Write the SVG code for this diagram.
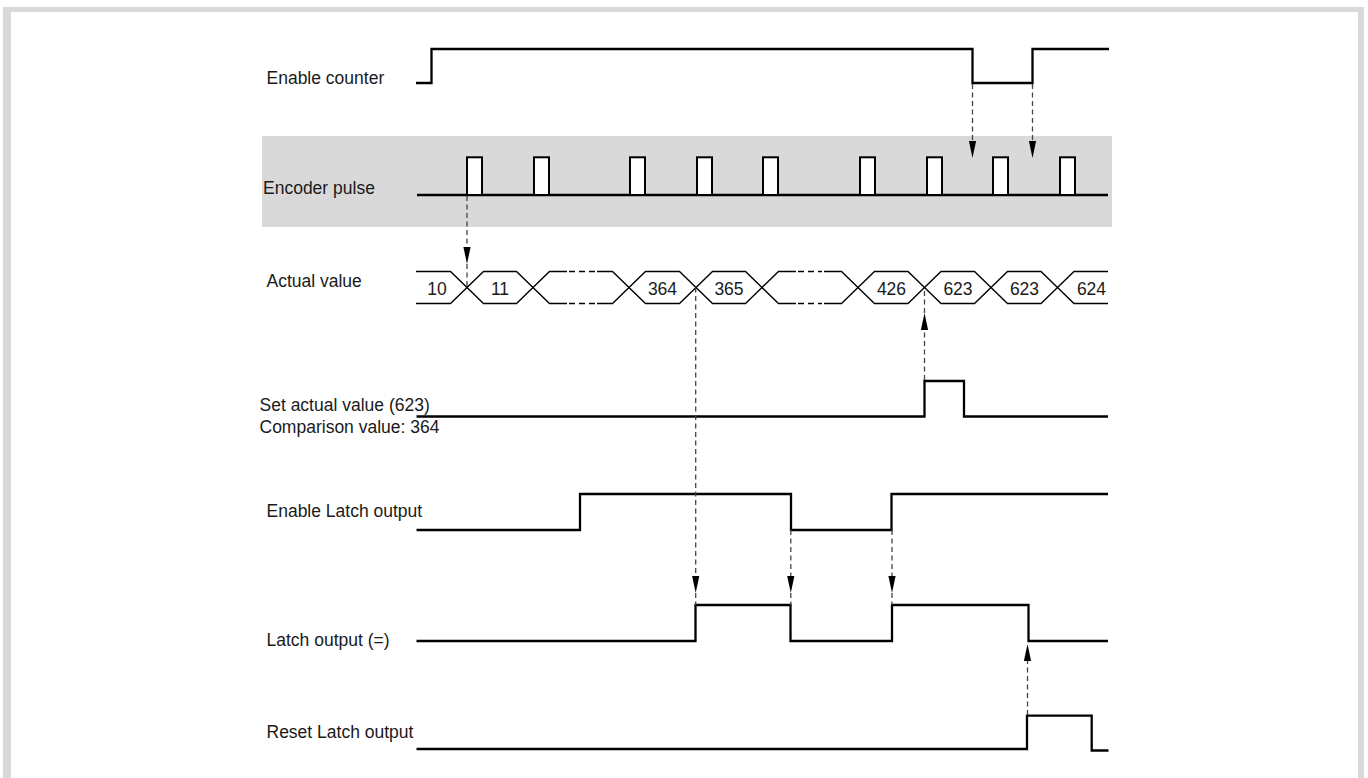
<svg xmlns="http://www.w3.org/2000/svg" width="1368" height="778" viewBox="0 0 1368 778">
<style>
.lbl{font-family:"Liberation Sans",Arial,sans-serif;font-size:17.5px;fill:#1a1a1a}
.val{font-family:"Liberation Sans",Arial,sans-serif;font-size:17.5px;fill:#1a1a1a;text-anchor:middle}
.sig{fill:none;stroke:#000;stroke-width:2.3;stroke-linejoin:miter;stroke-linecap:butt}
.bus{fill:none;stroke:#000;stroke-width:1.4;stroke-linejoin:miter}
.busd{fill:none;stroke:#000;stroke-width:1.4;stroke-dasharray:6 4}
.pulse{fill:#fff;stroke:#000;stroke-width:2}
.dash{fill:none;stroke:#444;stroke-width:1.3;stroke-dasharray:5 3.5}
.ah{fill:#000}
</style>
<defs>
<path id="ahDown" d="M-3.6,-17 L3.6,-17 L0,0 Z"/>
<path id="ahUp" d="M-3.6,17 L3.6,17 L0,0 Z"/>
</defs>
<rect x="3" y="7" width="1361" height="780" fill="#d9d9d9"/>
<rect x="11" y="12" width="1347" height="780" fill="#fff"/>
<rect x="262" y="136" width="850" height="91" fill="#d9d9d9"/>

<g id="enable-counter">
<text class="lbl" x="266.5" y="83.5">Enable counter</text>
<path class="sig" d="M416,83 H431.5 V49 H972.5 V83 H1032.5 V49 H1109"/>
</g>

<g id="encoder-pulse">
<text class="lbl" x="263" y="194">Encoder pulse</text>
<path class="sig" d="M417,195 H1108"/>
<rect class="pulse" x="467" y="157.3" width="15" height="37.7"/>
<rect class="pulse" x="534" y="157.3" width="15" height="37.7"/>
<rect class="pulse" x="630" y="157.3" width="15" height="37.7"/>
<rect class="pulse" x="697" y="157.3" width="15" height="37.7"/>
<rect class="pulse" x="763" y="157.3" width="15" height="37.7"/>
<rect class="pulse" x="860" y="157.3" width="15" height="37.7"/>
<rect class="pulse" x="927" y="157.3" width="15" height="37.7"/>
<rect class="pulse" x="993" y="157.3" width="15" height="37.7"/>
<rect class="pulse" x="1060" y="157.3" width="15" height="37.7"/>
</g>

<g id="actual-value">
<text class="lbl" x="266.5" y="286.5">Actual value</text>
<path class="bus" d="M416,271.5 H450.5 L467,287.5 L450.5,303.5 H416"/>
<path class="bus" d="M467,287.5 L483.5,271.5 H516.5 L533,287.5 L516.5,303.5 H483.5 Z"/>
<path class="bus" d="M567,303.5 H549.5 L533,287.5 L549.5,271.5 H567 M597,271.5 H612.5 L629,287.5 L612.5,303.5 H597"/>
<path class="busd" d="M569,271.5 H595 M569,303.5 H595"/>
<path class="bus" d="M629,287.5 L645.5,271.5 H679.5 L696,287.5 L679.5,303.5 H645.5 Z"/>
<path class="bus" d="M696,287.5 L712.5,271.5 H745.5 L762,287.5 L745.5,303.5 H712.5 Z"/>
<path class="bus" d="M796,303.5 H778.5 L762,287.5 L778.5,271.5 H796 M824,271.5 H841.5 L858,287.5 L841.5,303.5 H824"/>
<path class="busd" d="M798,271.5 H822 M798,303.5 H822"/>
<path class="bus" d="M858,287.5 L874.5,271.5 H908 L924.5,287.5 L908,303.5 H874.5 Z"/>
<path class="bus" d="M924.5,287.5 L941,271.5 H974.5 L991,287.5 L974.5,303.5 H941 Z"/>
<path class="bus" d="M991,287.5 L1007.5,271.5 H1041 L1057.5,287.5 L1041,303.5 H1007.5 Z"/>
<path class="bus" d="M1108,271.5 H1074 L1057.5,287.5 L1074,303.5 H1108"/>
<text class="val" x="437" y="294.5">10</text>
<text class="val" x="500" y="294.5">11</text>
<text class="val" x="662.5" y="294.5">364</text>
<text class="val" x="729" y="294.5">365</text>
<text class="val" x="891.5" y="294.5">426</text>
<text class="val" x="958" y="294.5">623</text>
<text class="val" x="1024.5" y="294.5">623</text>
<text class="val" x="1091.5" y="294.5">624</text>
</g>

<g id="set-actual-value">
<text class="lbl" x="259.5" y="411">Set actual value (623)</text>
<text class="lbl" x="259.5" y="433">Comparison value: 364</text>
<path class="sig" d="M416.5,416.5 H924.5 V381 H964 V416.5 H1108"/>
</g>

<g id="enable-latch-output">
<text class="lbl" x="266.5" y="517">Enable Latch output</text>
<path class="sig" d="M416.5,530 H580 V494 H791 V530 H891.5 V494 H1108"/>
</g>

<g id="latch-output">
<text class="lbl" x="266.5" y="645.5">Latch output (=)</text>
<path class="sig" d="M416.5,641 H695.5 V605 H790.5 V641 H892 V605 H1028.5 V641 H1108"/>
</g>

<g id="reset-latch-output">
<text class="lbl" x="266.5" y="738">Reset Latch output</text>
<path class="sig" d="M416.5,749 H1027 V715.7 H1091.7 V750.5 H1108.5"/>
</g>

<g id="connectors">
<path class="dash" d="M972.5,84 V142"/>
<use href="#ahDown" class="ah" x="972.5" y="158"/>
<path class="dash" d="M1032.5,84 V142"/>
<use href="#ahDown" class="ah" x="1032.5" y="158"/>
<path class="dash" d="M467,196 V248 M467,264 V287.5"/>
<use href="#ahDown" class="ah" x="467" y="264"/>
<path class="dash" d="M695.7,287.5 V578 M695.7,593 V605"/>
<use href="#ahDown" class="ah" x="695.7" y="593"/>
<path class="dash" d="M790.8,530 V578 M790.8,593 V605"/>
<use href="#ahDown" class="ah" x="790.8" y="593"/>
<path class="dash" d="M892,530 V578 M892,593 V605"/>
<use href="#ahDown" class="ah" x="892" y="593"/>
<path class="dash" d="M924.5,380 V328 M924.5,313 V287.5"/>
<use href="#ahUp" class="ah" x="924.5" y="313"/>
<path class="dash" d="M1027.5,715 V660"/>
<use href="#ahUp" class="ah" x="1027.5" y="644"/>
</g>
</svg>
